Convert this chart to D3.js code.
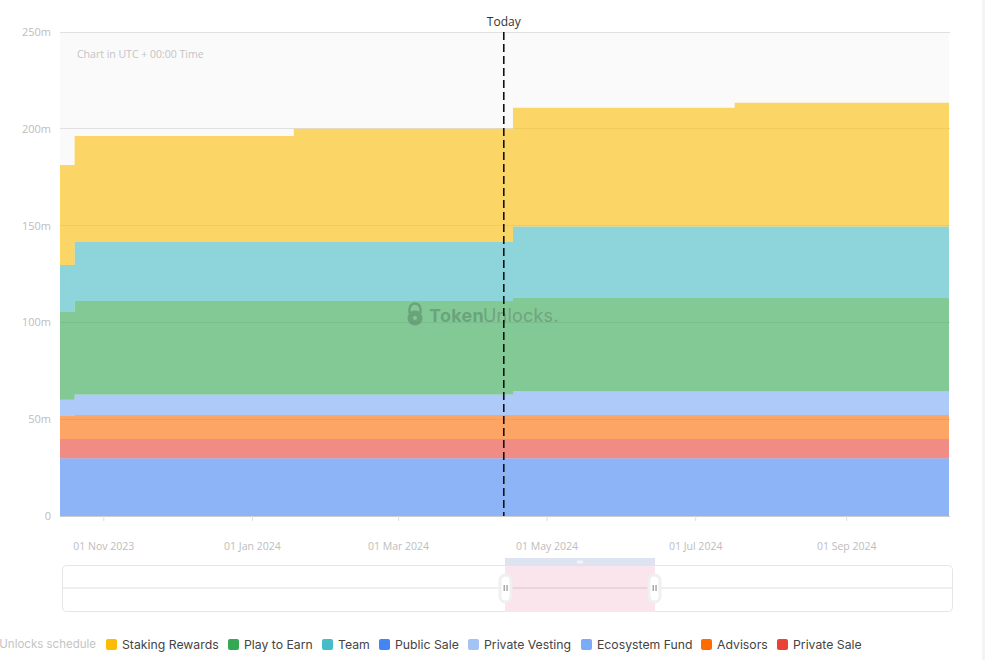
<!DOCTYPE html>
<html><head><meta charset="utf-8">
<script src="https://cdn.jsdelivr.net/npm/d3@7"></script>
<style>html,body{margin:0;padding:0;background:#fff;overflow:hidden}svg{display:block;font-family:Inter,"Open Sans",sans-serif}.os{font-family:"Open Sans",sans-serif}</style>
</head><body><svg id="c" width="985" height="660"></svg>
<script>
const parse = d3.utcParse("%Y-%m-%d");
const stepDates = ["2023-10-14","2023-10-20","2024-01-18","2024-04-17","2024-07-17","2024-10-13"];
const publicSale    = [29.8,29.8,29.8,29.8,29.8,29.8];
const privateSale   = [10,10,10,10,10,10];
const advisors      = [11.8,12.4,12.4,12.4,12.4,12.4];
const privateVesting= [0,0,0,0,0,0];
const ecosystemFund = [8.4,10.5,10.5,12.3,12.3,12.3];
const playToEarn    = [45.4,48.4,48.4,48.3,48.3,48.3];
const team          = [24.2,30.4,30.4,36.7,36.7,36.7];
const stakingRewards= [51.7,54.8,58.5,61.4,64,64];
const legendNames = ["Staking Rewards","Play to Earn","Team","Public Sale","Private Vesting","Ecosystem Fund","Advisors","Private Sale"];
const legendColors = ["#fbbc04","#34a853","#46bdc6","#4285f4","#a4c2f4","#7baaf7","#ff6d01","#ea4335"];
const legendX = [106,228,322,379,468,581,701,777];
const yTicks = [0,50,100,150,200,250];
const xTicks = ["2023-11-01","2024-01-01","2024-03-01","2024-05-01","2024-07-01","2024-09-01"];
const todayDate = "2024-04-13";
const selStart = "2023-10-14", selEnd = "2024-10-13";

const series = {"Public Sale":publicSale,"Private Sale":privateSale,"Advisors":advisors,"Private Vesting":privateVesting,"Ecosystem Fund":ecosystemFund,"Play to Earn":playToEarn,"Team":team,"Staking Rewards":stakingRewards};
const stackKeys = Object.keys(series);
const table = stepDates.map((d,i)=>{const o={date:parse(d)};stackKeys.forEach(k=>o[k]=series[k][i]);return o;});
const colorOf = d3.scaleOrdinal(legendNames,legendColors);

const L=60,R=949,T=32,B=516;
const x=d3.scaleUtc().domain([parse(selStart),parse(selEnd)]).range([L,R]);
const y=d3.scaleLinear().domain([0,250]).range([B,T]);
const svg=d3.select("#c");

svg.append("rect").attr("x",982).attr("y",0).attr("width",3).attr("height",660).attr("fill","#f4f4f4");
svg.append("rect").attr("x",L).attr("y",T).attr("width",R-L).attr("height",B-T).attr("fill","#fafafa");
// grid
svg.append("g").selectAll("line").data(yTicks).join("line")
  .attr("x1",L).attr("x2",R+1).attr("y1",d=>y(d)).attr("y2",d=>y(d))
  .attr("stroke",d=>d===0?"#ccc":"#e0e0e0").attr("stroke-width",1).attr("shape-rendering","crispEdges");
// y labels
svg.append("g").selectAll("text").data(yTicks).join("text").attr("class","os")
  .attr("x",51).attr("y",d=>y(d)+4).attr("text-anchor","end").attr("font-size",11).attr("fill","#bdbdbd")
  .text(d=>d===0?"0":d+"m");
svg.append("text").attr("class","os").attr("x",77).attr("y",58).attr("font-size",10.5).attr("fill","#c4c4c4").text("Chart in UTC + 00:00 Time");

// stacked areas
const stacked=d3.stack().keys(stackKeys)(table);
const area=d3.area().curve(d3.curveStepAfter).x(d=>x(d.data.date)).y0(d=>y(d[0])).y1(d=>y(d[1]));
svg.append("g").selectAll("path").data(stacked).join("path")
  .attr("d",area).attr("fill",d=>colorOf(d.key)).attr("fill-opacity",.6);

// watermark
const wm=svg.append("g").attr("opacity",.42);
wm.append("text").attr("x",429).attr("y",322).attr("font-size",18).attr("letter-spacing",.3).attr("font-weight",700).attr("fill","#4b6f57").text("Token");
wm.append("text").attr("x",483).attr("y",322).attr("font-size",18).attr("letter-spacing",.2).attr("font-weight",400).attr("fill","#5b6f60").text("Unlocks.");
wm.append("path").attr("d","M409.5 313v-4a5.5 5.5 0 0 1 11 0v4").attr("fill","none").attr("stroke","#4b6f57").attr("stroke-width",2.5);
wm.append("circle").attr("cx",415).attr("cy",318).attr("r",7.5).attr("fill","#4b6f57");
wm.append("circle").attr("cx",415).attr("cy",318).attr("r",2).attr("fill","#82c995");

// x axis
const xa=svg.append("g");
xa.selectAll("line").data(xTicks).join("line")
  .attr("x1",d=>x(parse(d))).attr("x2",d=>x(parse(d))).attr("y1",B).attr("y2",B+5).attr("stroke","#ddd");
xa.selectAll("text").data(xTicks).join("text").attr("class","os")
  .attr("x",d=>x(parse(d))).attr("y",550).attr("text-anchor","middle").attr("font-size",10.5).attr("fill","#bdbdbd")
  .text(d=>d3.utcFormat("%d %b %Y")(parse(d)));

// today
const tx=x(parse(todayDate))+0.5;
svg.append("line").attr("x1",tx).attr("x2",tx).attr("y1",T).attr("y2",B).attr("stroke","#111").attr("stroke-width",1.6).attr("stroke-dasharray","8 4");
svg.append("text").attr("class","os").attr("x",tx).attr("y",26).attr("text-anchor","middle").attr("font-size",12).attr("fill","#333").text("Today");

// slider
svg.append("rect").attr("x",62.5).attr("y",565.5).attr("width",890).attr("height",46).attr("rx",4).attr("fill","#fff").attr("stroke","#e6e6e6");
svg.append("rect").attr("x",505).attr("y",558).attr("width",150).attr("height",8).attr("fill","#dde3f1");
svg.append("rect").attr("x",505).attr("y",566).attr("width",150).attr("height",46).attr("fill","#f9e5eb");
svg.append("line").attr("x1",63).attr("x2",952).attr("y1",588).attr("y2",588).attr("stroke","#000").attr("stroke-opacity",.13);
[0,1,2].forEach(i=>svg.append("rect").attr("x",577.5+i*2).attr("y",560.5).attr("width",1.2).attr("height",3).attr("fill","#fff"));
[505.5,654.5].forEach(h=>{
  svg.append("rect").attr("x",h-5.5).attr("y",575).attr("width",11).attr("height",27).attr("rx",5.5).attr("fill","#fff").attr("stroke","#f0f0f0").attr("stroke-width",3);
  svg.append("rect").attr("x",h-2).attr("y",585).attr("width",1.5).attr("height",6).attr("fill","#aaa");
  svg.append("rect").attr("x",h+.8).attr("y",585).attr("width",1.5).attr("height",6).attr("fill","#aaa");
});

// legend
svg.append("text").attr("x",96).attr("y",648).attr("text-anchor","end").attr("font-size",11.5).attr("fill","#c4c4c4").text("Unlocks schedule");
const lg=svg.append("g").selectAll("g").data(legendNames).join("g").attr("transform",(d,i)=>`translate(${legendX[i]},639)`);
lg.append("rect").attr("width",11).attr("height",11).attr("rx",2).attr("fill",d=>colorOf(d));
lg.append("text").attr("x",16).attr("y",9.5).attr("font-size",12.25).attr("fill","#444").text(d=>d);
</script></body></html>
